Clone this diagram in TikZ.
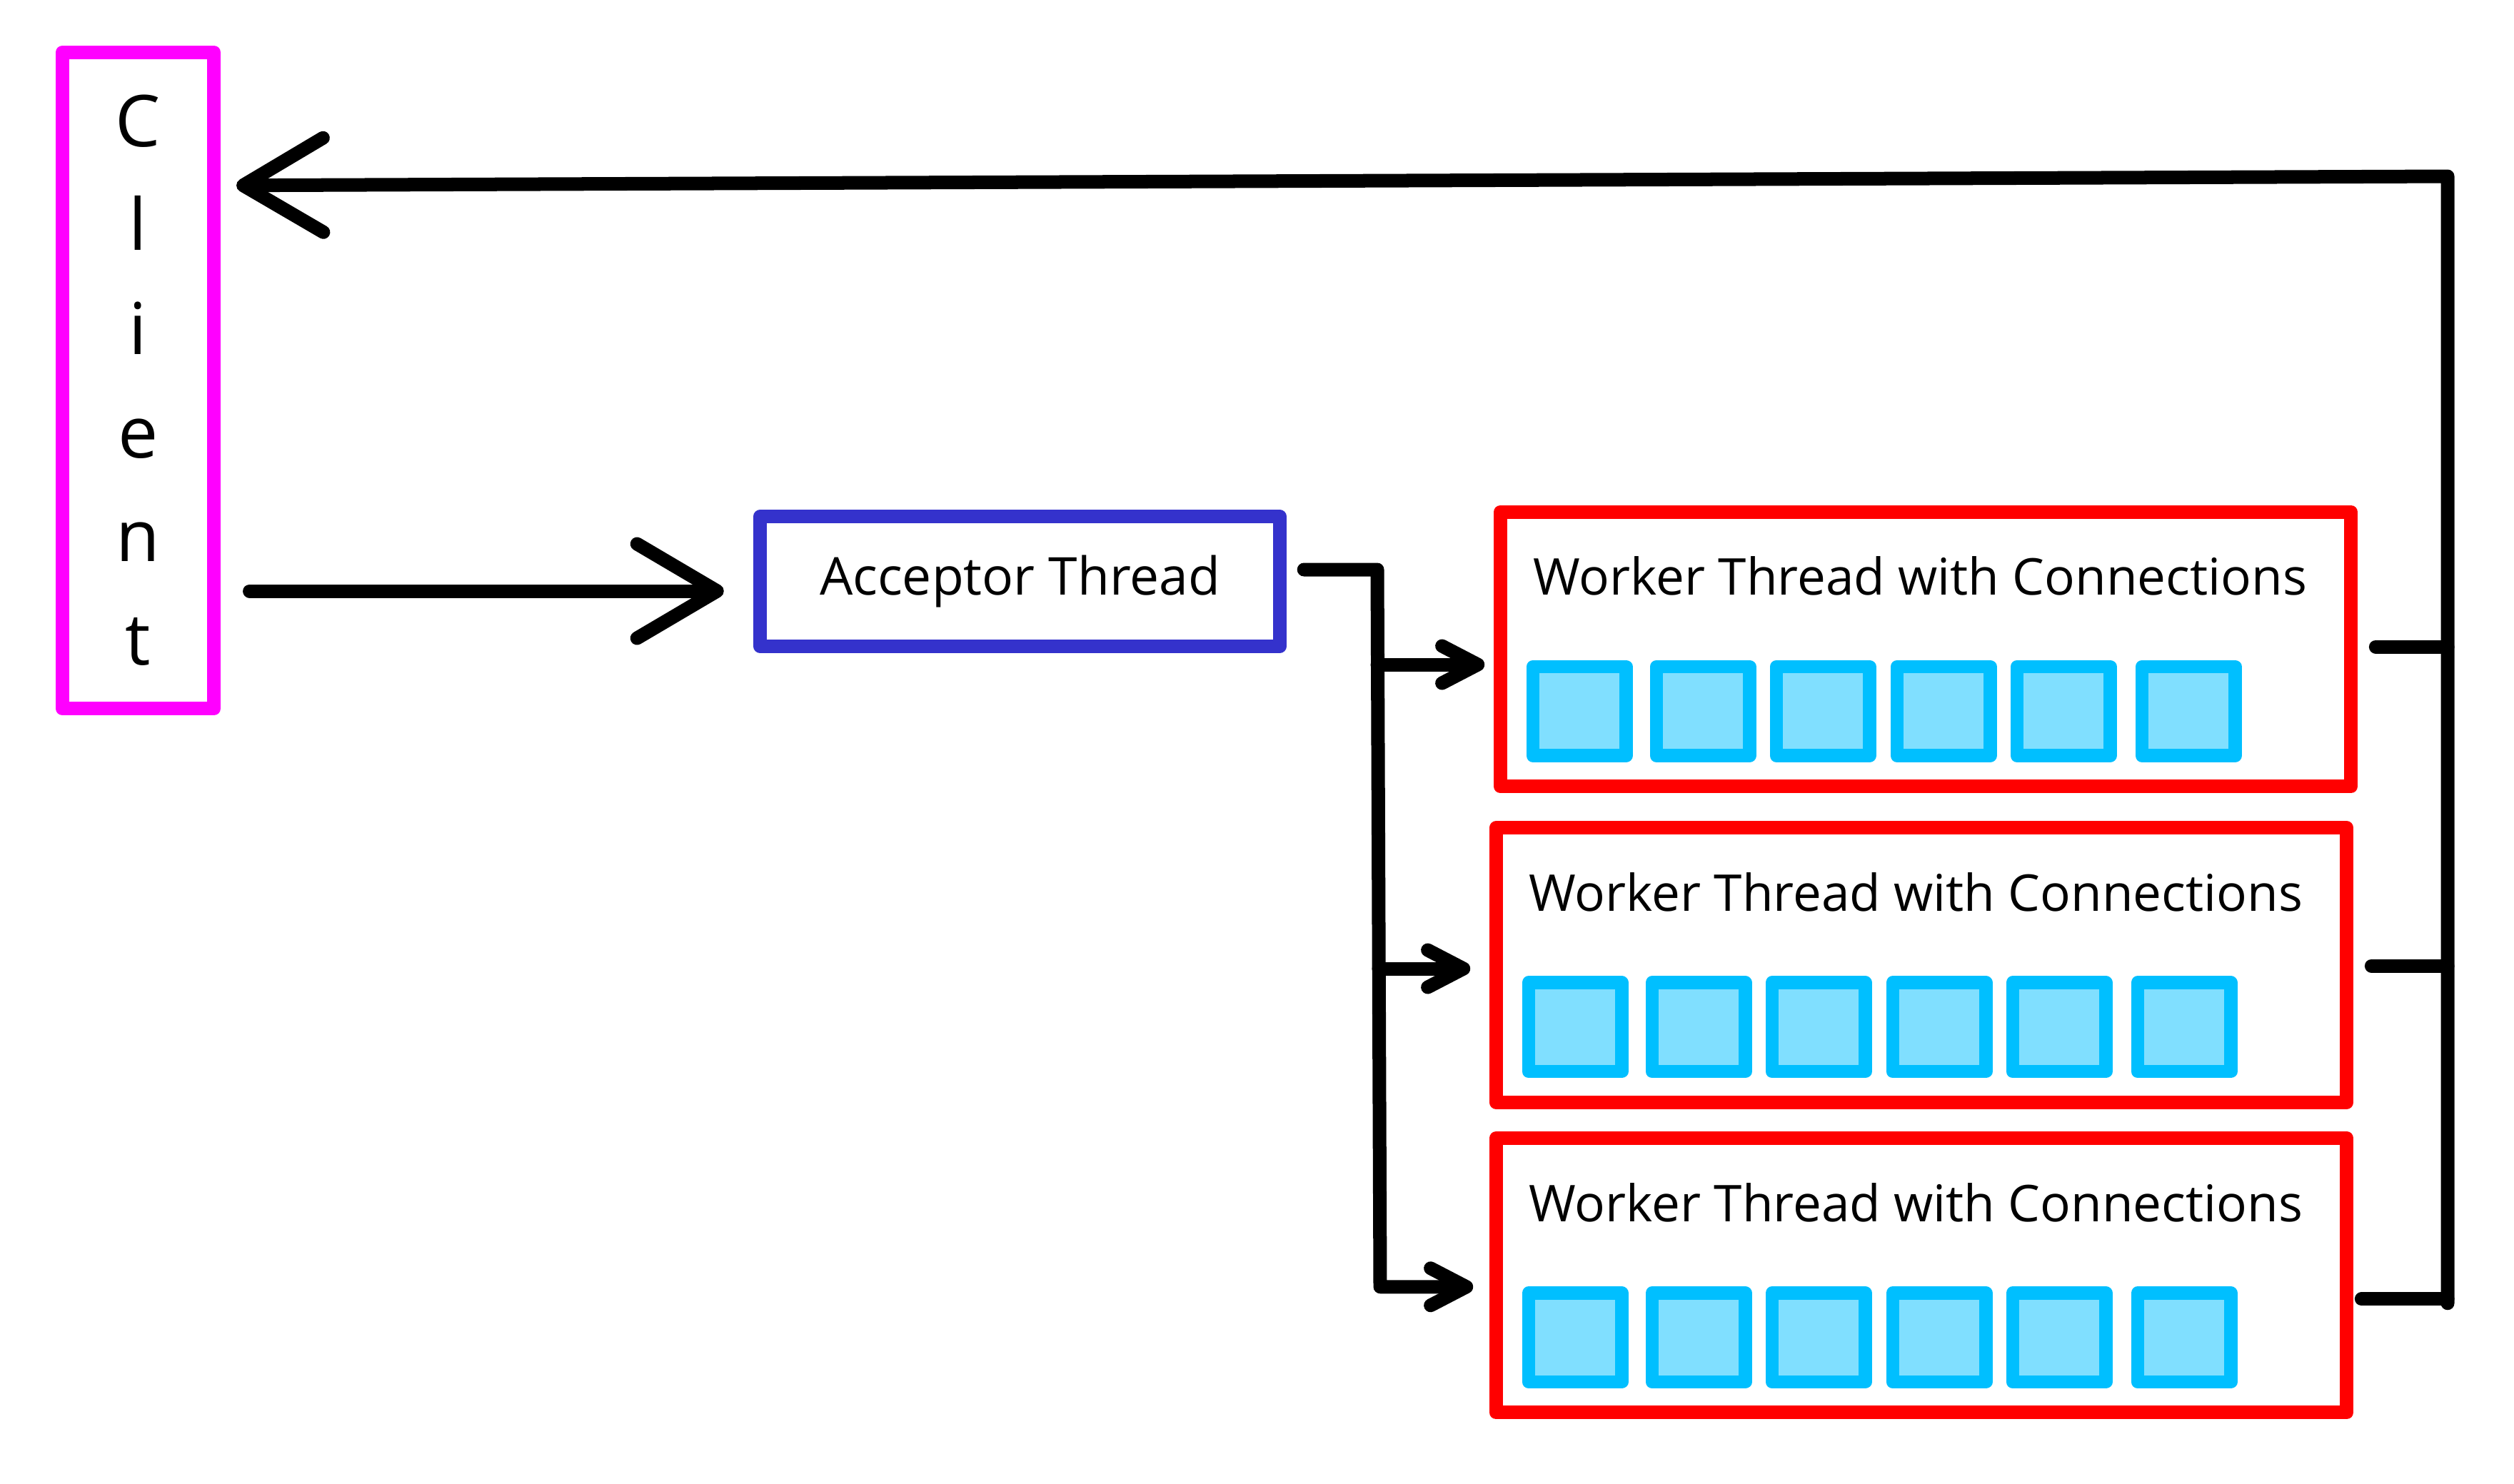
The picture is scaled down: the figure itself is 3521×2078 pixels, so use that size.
\documentclass[tikz,border=0pt]{standalone}
\usepackage{fontspec}
\setmainfont{Open Sans}
\usetikzlibrary{arrows.meta, calc}

\definecolor{clientpink}{RGB}{255,0,255}
\definecolor{acceptblue}{RGB}{52,50,204}
\definecolor{workred}{RGB}{255,0,0}
\definecolor{slotedge}{RGB}{0,191,255}
\definecolor{slotfill}{RGB}{128,223,255}

\begin{document}
\begin{tikzpicture}[x=0.01cm, y=-0.01cm,
  box/.style={draw, line width=0.19cm, line join=round, outer sep=0pt, inner sep=0pt},
  conn/.style={line width=0.19cm, line cap=round, line join=round},
  bighead/.style={arrows={-Straight Barb[length=1.12cm, width=1.32cm, line cap=round, line join=round]}},
  smallhead/.style={arrows={-Straight Barb[length=0.5cm, width=0.52cm, line cap=round, line join=round]}},
  slot/.style={draw=slotedge, fill=slotfill, line width=0.185cm, line join=round, outer sep=0pt,
    inner sep=0pt, minimum width=1.305cm, minimum height=1.245cm}]
\useasboundingbox (0,0) rectangle (3521,2078);

\node[box, draw=clientpink, minimum width=2.12cm, minimum height=9.19cm, align=center,
  font=\fontsize{28.5}{41.3}\selectfont] at (193.5,533) (client) {C\\l\\i\\e\\n\\t};
\node[box, draw=acceptblue, minimum width=7.27cm, minimum height=1.82cm,
  font=\fontsize{20.8}{25}\selectfont] at (1428.5,814.5) (acceptor) {Acceptor Thread};

%worker threads, each with six connections
\foreach \n/\x/\y in {1/2697/909.5, 2/2691/1352, 3/2691/1786.75} {
  \node[box, draw=workred, minimum width=11.91cm, minimum height=3.84cm] at (\x,\y) (worker\n) {};
  \node[anchor=base west, inner sep=0pt, font=\fontsize{20.2}{25}\selectfont]
    at ($(worker\n.north west)+(45.5,116.5)$) (label\n) {Worker Thread with Connections};
  \foreach \c/\dx in {1/0, 2/173, 3/341, 4/510, 5/678, 6/853}
    \node[slot] at ($(worker\n.north west)+(111+\dx,279)$) (slot\n\c) {};
}

\coordinate (bustop) at (3428,247);
\coordinate (fork) at (1929,798);

%client to acceptor
\draw[conn, bighead] ($(client.east |- acceptor.west)+(50,13.5)$) -- ($(acceptor.west)+(-51,13.5)$);
%acceptor hands out connections
\draw[conn, smallhead] ($(acceptor.east)+(34,-16.5)$) -- (fork)
  -- ($(fork |- worker3.west)+(4,16)$) -- ($(worker3.west)+(-32,16)$);
\draw[conn, smallhead] ($(fork |- worker1.west)+(0,21.5)$) -- ($(worker1.west)+(-22,21.5)$);
\draw[conn, smallhead] ($(fork |- worker2.west)+(2,5)$) -- ($(worker2.west)+(-36,5)$);

%workers reply to the client
\draw[conn] ($(worker1.east)+(34.5,-3.5)$) -- ($(bustop |- worker1.east)+(0,-3.5)$);
\draw[conn] ($(worker2.east)+(34.5,1)$) -- ($(bustop |- worker2.east)+(0,1)$);
\draw[conn] ($(worker3.east)+(20.5,33)$) -- ($(bustop |- worker3.east)+(0,33)$);
\draw[conn, bighead] ($(bustop |- worker3.east)+(0,39)$) -- (bustop)
  -- ($(client.north east)+(31.5,186.5)$);
\end{tikzpicture}
\end{document}
